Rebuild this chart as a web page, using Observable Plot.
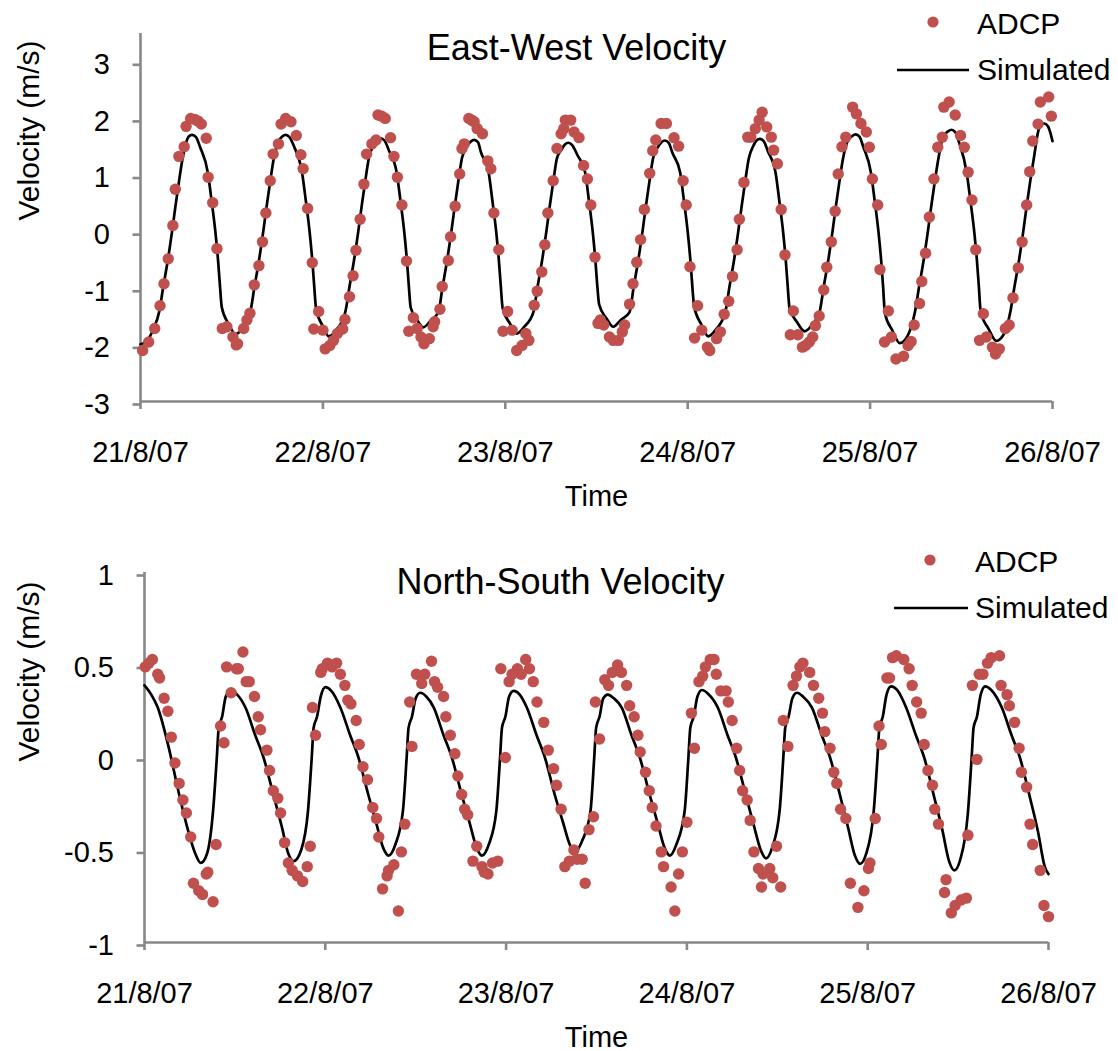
<!DOCTYPE html>
<html>
<head>
<meta charset="utf-8">
<script src="https://cdn.jsdelivr.net/npm/d3@7"></script>
<script src="https://cdn.jsdelivr.net/npm/@observablehq/plot@0.6"></script>
<style>
  html, body { margin: 0; padding: 0; background: #fff; }
  #chart { position: relative; width: 1118px; height: 1051px; font-family: "Liberation Sans", Arial, sans-serif; }
  #chart > svg { position: absolute; left: 0; }
</style>
</head>
<body>
<div id="chart"></div>
<script>
// Time axis: hours after 21/8/07 00:00, one labelled tick per day
const dayTicks = [0, 24, 48, 72, 96, 120];
const dayLabels = ["21/8/07", "22/8/07", "23/8/07", "24/8/07", "25/8/07", "26/8/07"];

const ewTicks = [-3, -2, -1, 0, 1, 2, 3];
const nsTicks = [-1, -0.5, 0, 0.5, 1];

// East-West velocity (m/s): ADCP observations [hour, velocity]
const ewObserved = [
  [0.28,-2.10],[1.08,-1.95],[1.87,-1.71],[2.57,-1.31],[3.09,-0.92],[3.65,-0.48],[4.26,0.11],[4.58,0.75],[5.05,1.33],[5.75,1.50],[6.0,1.86],[6.6,2.0],[7.16,1.98],[7.6,1.95],[8.0,1.90],[8.65,1.65],[8.9,0.96],[9.5,0.51],[10.06,-0.30],
  [10.76,-1.71],[11.37,-1.68],[12.16,-1.86],[12.6,-2.0],[12.77,-1.98],[13.57,-1.71],[14.0,-1.56],[14.4,-1.44],[14.97,-0.94],[15.58,-0.60],[16.05,-0.18],
  [16.5,0.33],[17.07,0.90],[17.45,1.37],[18.15,1.55],[18.5,1.90],[19.1,2.0],[19.8,1.94],[20.5,1.70],[21.1,1.36],[21.4,1.11],[21.99,0.41],[22.6,-0.55],
  [22.8,-1.72],[23.44,-1.41],[24.0,-1.74],[24.3,-2.07],[24.9,-2.01],[25.4,-1.92],[25.9,-1.80],[26.6,-1.72],[26.9,-1.55],[27.5,-1.15],[27.97,-0.78],[28.35,-0.33],
  [28.9,0.22],[29.4,0.84],[29.75,1.37],[30.45,1.55],[31.0,1.62],[31.25,2.06],[31.75,2.04],[32.2,2.0],[32.9,1.66],[33.35,1.33],[33.8,0.96],[34.4,0.47],[35.0,-0.52],
  [35.3,-1.76],[35.9,-1.52],[36.4,-1.71],[36.9,-1.86],[37.3,-1.98],[38.0,-1.89],[38.5,-1.68],[38.7,-1.59],[39.4,-1.37],[39.7,-0.97],[40.5,-0.51],[40.8,-0.09],
  [41.4,0.45],[42.0,1.02],[42.3,1.47],[42.6,1.55],[43.2,2.0],[43.6,1.97],[43.9,1.94],[44.3,1.82],[45.0,1.73],[45.7,1.25],[46.1,1.11],[46.5,0.33],[47.15,-0.32],
  [47.7,-1.76],[48.3,-1.41],[48.9,-1.74],[49.5,-2.10],[50.2,-2.01],[50.7,-1.80],[51.1,-1.92],[51.8,-1.30],[52.2,-1.05],[52.8,-0.71],[53.2,-0.23],
  [53.6,0.33],[54.3,0.90],[54.8,1.47],[55.35,1.73],[55.7,1.82],[55.9,1.97],[56.6,1.97],[57.05,1.76],[57.7,1.66],[58.3,1.17],[58.8,0.93],[59.25,0.47],[59.8,-0.45],
  [60.2,-1.62],[60.5,-1.56],[60.95,-1.65],[61.7,-1.86],[62.2,-1.92],[62.9,-1.92],[63.4,-1.77],[63.7,-1.65],[64.35,-1.28],[64.8,-0.92],[65.3,-0.54],[65.8,-0.14],
  [66.3,0.39],[67.0,1.03],[67.4,1.43],[67.8,1.62],[68.5,1.91],[69.2,1.91],[70.2,1.66],[70.8,1.51],[71.4,0.90],[71.8,0.47],[72.3,-0.62],
  [72.9,-1.88],[73.3,-1.31],[73.85,-1.74],[74.6,-2.04],[74.9,-2.10],[75.8,-1.89],[76.3,-1.77],[76.8,-1.46],[77.4,-1.23],[77.9,-0.79],[78.5,-0.32],
  [78.8,0.22],[79.4,0.87],[79.9,1.67],[80.3,1.67],[80.9,1.82],[81.4,1.97],[81.8,2.11],[82.4,1.85],[83.0,1.67],[83.3,1.44],[83.8,1.20],[84.3,0.39],[84.8,-0.41],
  [85.5,-1.82],[85.9,-1.40],[86.5,-1.82],[87.1,-2.04],[87.5,-2.01],[88.0,-1.95],[88.45,-1.86],[88.8,-1.66],[89.3,-1.49],[89.9,-1.03],[90.3,-0.63],[90.9,-0.18],
  [91.4,0.36],[91.8,1.02],[92.3,1.50],[92.8,1.67],[93.7,2.20],[94.2,2.08],[94.8,1.91],[95.5,1.76],[95.9,1.49],[96.3,0.93],[97.0,0.47],[97.3,-0.67],
  [97.9,-1.95],[98.4,-1.40],[98.8,-1.86],[99.4,-2.25],[100.4,-2.20],[101.0,-2.01],[101.4,-1.94],[101.8,-1.65],[102.5,-1.27],[102.8,-0.88],[103.3,-0.38],
  [103.8,0.26],[104.4,0.93],[104.9,1.49],[105.5,1.67],[105.7,2.20],[106.4,2.29],[107.2,2.06],[107.9,1.70],[108.4,1.49],[108.9,1.05],[109.4,0.56],[109.9,-0.32],
  [110.4,-1.92],[110.9,-1.45],[111.3,-1.86],[112.1,-2.04],[112.5,-2.16],[113.0,-2.07],[113.8,-1.71],[114.3,-1.65],[114.8,-1.17],[115.5,-0.64],[116.0,-0.18],
  [116.6,0.47],[117.0,1.06],[117.4,1.60],[118.1,1.90],[118.4,2.29],[119.5,2.38],[119.85,2.04]
];

// East-West velocity (m/s): simulated series [hour, velocity]
const ewSimulated = [
  [0,-1.99],[0.9,-1.92],[1.7,-1.72],[2.45,-1.42],[3.0,-0.97],[3.6,-0.5],[4.15,0],[4.6,0.45],[5.1,0.92],[5.55,1.3],[6.35,1.68],[6.8,1.71],
  [7.3,1.67],[7.85,1.49],[8.85,1.05],[9.35,0.55],[9.85,0],[10.2,-0.5],[10.45,-0.95],[10.7,-1.34],[11.6,-1.63],[12.5,-1.81],
  [13.5,-1.69],[14.45,-1.42],[15.0,-0.97],[15.6,-0.5],[16.15,0],[16.6,0.45],[17.1,0.92],[17.55,1.3],[18.15,1.59],[18.65,1.68],[19.1,1.71],
  [19.6,1.67],[20.25,1.49],[21.25,1.05],[21.75,0.55],[22.25,0],[22.6,-0.5],[22.85,-0.95],[23.1,-1.36],[23.95,-1.66],[24.8,-1.85],
  [25.8,-1.73],[26.95,-1.42],[27.5,-0.97],[28.1,-0.5],[28.65,0],[29.1,0.45],[29.6,0.92],[30.05,1.3],[30.65,1.53],[31.15,1.62],[31.6,1.65],
  [32.1,1.61],[32.7,1.43],[33.7,1.05],[34.2,0.55],[34.7,0],[35.05,-0.5],[35.3,-0.95],[35.55,-1.34],[36.4,-1.56],[37.2,-1.69],
  [38.2,-1.57],[39.2,-1.42],[39.75,-0.97],[40.35,-0.5],[40.9,0],[41.35,0.45],[41.85,0.92],[42.3,1.3],[42.9,1.5],[43.45,1.59],[43.9,1.62],
  [44.4,1.58],[44.8,1.40],[45.8,1.05],[46.3,0.55],[46.8,0],[47.15,-0.5],[47.4,-0.95],[47.65,-1.35],[48.6,-1.62],[49.5,-1.80],
  [50.5,-1.68],[51.7,-1.42],[52.25,-0.97],[52.85,-0.5],[53.4,0],[53.85,0.45],[54.35,0.92],[54.8,1.3],[55.4,1.45],[55.85,1.54],[56.3,1.57],
  [56.8,1.53],[57.5,1.35],[58.5,1.05],[59.0,0.55],[59.5,0],[59.85,-0.5],[60.1,-0.95],[60.35,-1.29],[61.3,-1.53],[62.2,-1.68],
  [63.2,-1.56],[64.35,-1.42],[64.9,-0.97],[65.5,-0.5],[66.05,0],[66.5,0.45],[67.0,0.92],[67.45,1.3],[68.05,1.49],[68.55,1.58],[69.0,1.61],
  [69.5,1.57],[70.0,1.39],[71.0,1.05],[71.5,0.55],[72.0,0],[72.35,-0.5],[72.6,-0.95],[72.85,-1.32],[73.8,-1.64],[74.7,-1.85],
  [75.7,-1.73],[76.95,-1.42],[77.5,-0.97],[78.1,-0.5],[78.65,0],[79.1,0.45],[79.6,0.92],[80.05,1.3],[80.65,1.52],[81.05,1.61],[81.5,1.64],
  [82.0,1.60],[82.55,1.42],[83.55,1.05],[84.05,0.55],[84.55,0],[84.9,-0.5],[85.15,-0.95],[85.4,-1.35],[86.4,-1.6],[87.4,-1.76],
  [88.4,-1.64],[89.35,-1.42],[89.9,-0.97],[90.5,-0.5],[91.05,0],[91.5,0.45],[92.0,0.92],[92.45,1.3],[93.05,1.6],[93.65,1.69],[94.1,1.72],
  [94.6,1.68],[95.1,1.50],[96.1,1.05],[96.6,0.55],[97.1,0],[97.45,-0.5],[97.7,-0.95],[97.95,-1.44],[98.95,-1.75],[99.9,-1.97],
  [100.9,-1.85],[101.9,-1.42],[102.45,-0.97],[103.05,-0.5],[103.6,0],[104.05,0.45],[104.55,0.92],[105.0,1.3],[105.6,1.68],[106.25,1.77],[106.7,1.80],
  [107.2,1.76],[107.7,1.58],[108.7,1.05],[109.2,0.55],[109.7,0],[110.05,-0.5],[110.3,-0.95],[110.55,-1.41],[111.6,-1.72],[112.6,-1.93],
  [113.6,-1.81],[114.45,-1.42],[115.0,-0.97],[115.6,-0.5],[116.15,0],[116.6,0.45],[117.1,0.92],[117.55,1.3],[118.15,1.79],[118.45,1.88],[118.9,1.91],
  [119.4,1.86],[120,1.6]
];

// North-South velocity (m/s): ADCP observations [hour, velocity]
const nsObserved = [
  [0.1,0.49],[0.57,0.51],[1.05,0.53],[1.76,0.45],[2.0,0.43],[2.6,0.32],[3.1,0.25],[3.56,0.11],[4.04,-0.03],[4.6,-0.14],[5.1,-0.23],[5.56,-0.30],[6.13,-0.43],[6.5,-0.68],[7.2,-0.72],[7.7,-0.74],[8.2,-0.63],[8.4,-0.62],[9.1,-0.78],[9.5,-0.47],
  [10.1,0.17],[10.55,0.08],[10.9,0.49],[11.5,0.35],[12.2,0.48],[12.45,0.48],[13.07,0.57],[13.5,0.41],[13.9,0.41],[14.6,0.33],[15.1,0.22],[15.4,0.15],[16.25,0.04],[16.6,-0.07],
  [17.1,-0.18],[17.7,-0.22],[18.06,-0.30],[18.6,-0.46],[19.1,-0.57],[19.6,-0.61],[20.3,-0.64],[21.0,-0.67],[21.6,-0.59],[22.0,-0.48],
  [22.3,0.27],[22.7,0.12],[23.4,0.46],[23.6,0.48],[24.3,0.51],[24.9,0.49],[25.5,0.51],[26.0,0.45],[26.6,0.39],[27.0,0.31],[27.4,0.29],[28.1,0.20],[28.5,0.07],[29.0,-0.05],
  [29.6,-0.12],[30.3,-0.27],[30.8,-0.33],[31.1,-0.43],[31.6,-0.71],[32.2,-0.64],[32.4,-0.61],[33.1,-0.58],[33.7,-0.83],[34.1,-0.51],[34.55,-0.36],
  [35.2,0.30],[35.5,0.06],[36.1,0.45],[36.8,0.40],[37.2,0.45],[38.1,0.52],[38.5,0.41],[38.9,0.38],[39.7,0.33],[40.0,0.22],[40.6,0.12],[41.2,0.02],[41.6,-0.10],
  [42.1,-0.20],[42.5,-0.28],[42.9,-0.31],[43.6,-0.56],[44.1,-0.48],[44.8,-0.59],[45.1,-0.62],[45.6,-0.63],[46.2,-0.57],[46.9,-0.56],
  [47.3,0.48],[47.9,0.00],[48.4,0.41],[48.8,0.45],[49.5,0.48],[50.0,0.45],[50.6,0.53],[51.1,0.48],[51.6,0.41],[52.1,0.30],[53.0,0.19],[53.6,0.04],[54.3,-0.06],
  [54.7,-0.15],[55.3,-0.28],[55.8,-0.59],[56.4,-0.56],[57.0,-0.50],[57.4,-0.55],[58.1,-0.55],[58.5,-0.68],[59.0,-0.39],[59.6,-0.32],
  [59.85,0.30],[60.4,0.10],[61.1,0.42],[61.6,0.39],[62.1,0.46],[62.8,0.50],[63.3,0.46],[64.0,0.39],[64.4,0.28],[65.0,0.22],[65.5,0.12],[65.8,0.03],[66.5,-0.08],
  [67.0,-0.18],[67.4,-0.27],[67.9,-0.37],[68.6,-0.51],[68.9,-0.59],[69.9,-0.70],[70.4,-0.83],[70.9,-0.63],[71.4,-0.51],[72.0,-0.35],
  [72.6,0.24],[73.0,0.05],[73.6,0.41],[74.1,0.44],[74.45,0.49],[75.1,0.53],[75.6,0.53],[75.9,0.45],[76.5,0.36],[77.2,0.36],[77.5,0.30],[78.0,0.20],[78.6,0.05],[79.0,-0.07],
  [79.4,-0.18],[80.0,-0.23],[80.4,-0.34],[80.9,-0.51],[81.5,-0.60],[81.9,-0.70],[82.1,-0.63],[83.0,-0.60],[83.4,-0.65],[83.9,-0.48],[84.45,-0.70],
  [84.8,0.20],[85.4,0.06],[86.1,0.39],[86.55,0.44],[87.0,0.49],[87.4,0.51],[88.3,0.46],[88.8,0.39],[89.5,0.32],[90.0,0.24],[90.3,0.14],[91.0,0.05],[91.5,-0.08],
  [91.9,-0.14],[92.4,-0.28],[93.1,-0.33],[93.7,-0.68],[94.7,-0.81],[95.5,-0.72],[96.1,-0.60],[96.3,-0.57],[97.0,-0.33],
  [97.5,0.17],[97.8,0.07],[98.55,0.43],[98.9,0.43],[99.3,0.54],[99.8,0.55],[100.8,0.53],[101.5,0.48],[101.9,0.39],[102.5,0.30],[103.1,0.24],[103.5,0.07],[104.0,-0.07],
  [104.6,-0.15],[104.9,-0.28],[105.4,-0.36],[106.2,-0.73],[106.4,-0.66],[107.1,-0.84],[107.6,-0.80],[108.4,-0.77],[109.1,-0.76],[109.3,-0.42],
  [109.9,0.39],[110.5,-0.01],[110.8,0.45],[111.3,0.45],[111.9,0.51],[112.4,0.54],[113.5,0.55],[113.7,0.39],[114.5,0.34],[114.8,0.28],[115.5,0.19],[116.1,0.05],[116.4,-0.08],
  [117.1,-0.16],[117.55,-0.36],[117.9,-0.47],[118.9,-0.61],[119.4,-0.80],[120.0,-0.86]
];

// North-South velocity (m/s): simulated series [hour, velocity]
const nsSimulated = [
  [0,0.39],[0.9,0.34],[1.76,0.27],[3.18,0.06],[4.6,-0.2],[5.56,-0.36],[6.75,-0.52],[7.46,-0.57],
  [8.3,-0.52],[9.1,-0.29],[9.6,0],[9.85,0.16],[10.3,0.22],[10.8,0.33],[11.5,0.36],[12.3,0.34],
  [13.4,0.27],[14.7,0.12],[15.8,0],[17.1,-0.2],[18.2,-0.37],[19.1,-0.52],[19.8,-0.56],
  [20.8,-0.5],[21.7,-0.29],[22.2,0],[22.45,0.16],[22.9,0.22],[23.4,0.33],[24.0,0.38],[24.8,0.36],
  [26.0,0.27],[27.3,0.12],[28.4,0],[29.7,-0.2],[30.8,-0.36],[31.7,-0.49],[32.4,-0.53],
  [33.3,-0.47],[34.3,-0.29],[34.8,0],[35.05,0.16],[35.5,0.22],[36.0,0.32],[36.6,0.35],[37.4,0.33],
  [38.4,0.27],[39.7,0.12],[40.8,0],[42.1,-0.2],[43.2,-0.36],[44.1,-0.49],[44.8,-0.53],
  [45.7,-0.47],[46.7,-0.29],[47.2,0],[47.45,0.16],[47.9,0.22],[48.4,0.33],[49.0,0.36],[49.8,0.34],
  [50.75,0.27],[52.05,0.12],[53.15,0],[54.45,-0.2],[55.55,-0.35],[56.45,-0.47],[57.15,-0.51],
  [58.1,-0.45],[59.2,-0.29],[59.7,0],[59.95,0.16],[60.4,0.22],[60.9,0.32],[61.5,0.34],[62.3,0.32],
  [63.35,0.27],[64.65,0.12],[65.75,0],[67.05,-0.2],[68.15,-0.36],[69.05,-0.49],[69.75,-0.53],
  [70.6,-0.47],[71.7,-0.29],[72.2,0],[72.45,0.16],[72.9,0.22],[73.4,0.33],[74.0,0.365],[74.8,0.345],
  [76.1,0.27],[77.4,0.12],[78.5,0],[79.8,-0.2],[80.9,-0.37],[81.8,-0.5],[82.5,-0.545],
  [83.3,-0.49],[84.3,-0.29],[84.8,0],[85.05,0.16],[85.5,0.22],[86.0,0.32],[86.6,0.35],[87.4,0.33],
  [88.6,0.27],[89.9,0.12],[91.0,0],[92.3,-0.2],[93.4,-0.38],[94.3,-0.53],[95.0,-0.575],
  [95.8,-0.52],[96.8,-0.29],[97.3,0],[97.55,0.16],[98.0,0.22],[98.5,0.34],[99.1,0.385],[99.9,0.365],
  [101.1,0.27],[102.4,0.12],[103.5,0],[104.8,-0.21],[105.9,-0.39],[106.8,-0.56],[107.5,-0.61],
  [108.3,-0.55],[109.3,-0.3],[109.8,0],[110.05,0.16],[110.5,0.22],[111.0,0.34],[111.6,0.385],[112.4,0.365],
  [113.8,0.27],[115.1,0.12],[116.2,0],[117.5,-0.21],[118.6,-0.4],[119.5,-0.59],[120,-0.63]
];

const FONT = "Liberation Sans, Arial, sans-serif";
const ADCP_RED = "#C0504D";
const AXIS_GREY = "#888888";

function velocityPanel({observed, simulated, title, yDomain, yTicks, top, height, margins, titleDx, titleDy, yTickPadding, yTitleDy}) {
  const [mt, mr, mb, ml] = margins;
  const svg = Plot.plot({
    width: 1118,
    height,
    marginTop: mt, marginRight: mr, marginBottom: mb, marginLeft: ml,
    style: {fontFamily: FONT, fontSize: "29px", color: "black", background: "transparent", overflow: "visible"},
    x: {domain: [0, 120], axis: null},
    y: {domain: yDomain, axis: null},
    marks: [
      Plot.ruleX([0], {stroke: AXIS_GREY, strokeWidth: 2.6}),
      Plot.ruleY([yDomain[0]], {stroke: AXIS_GREY, strokeWidth: 2.6}),
      Plot.axisX({
        ticks: dayTicks, tickFormat: (d) => dayLabels[dayTicks.indexOf(d)],
        tickSize: 8, tickPadding: 32, stroke: AXIS_GREY, strokeWidth: 2.6, fill: "black", fontSize: 29, label: null
      }),
      Plot.axisY({
        ticks: yTicks, tickFormat: (d) => String(d),
        tickSize: 7.5, tickPadding: yTickPadding, stroke: AXIS_GREY, strokeWidth: 2.6, fill: "black", fontSize: 29, dy: 3, label: null
      }),
      Plot.line(simulated, {x: (d) => d[0], y: (d) => d[1], curve: "monotone-x", stroke: "black", strokeWidth: 2.7}),
      Plot.dot(observed, {x: (d) => d[0], y: (d) => d[1], r: 5.7, fill: ADCP_RED, stroke: "none"}),
      Plot.text([title], {text: (d) => d, frameAnchor: "top", dx: titleDx, dy: titleDy, lineAnchor: "bottom", fontSize: 36, fill: "black"}),
      Plot.text(["Time"], {text: (d) => d, frameAnchor: "bottom", dx: 0, dy: 104, lineAnchor: "bottom", fontSize: 29, fill: "black"}),
      Plot.text(["Velocity (m/s)"], {text: (d) => d, frameAnchor: "left", rotate: -90, dx: 38 - ml, dy: yTitleDy, lineAnchor: "bottom", fontSize: 30, fill: "black"})
    ]
  });
  svg.style.top = top + "px";
  return svg;
}

const chart = document.getElementById("chart");

chart.appendChild(velocityPanel({
  observed: ewObserved, simulated: ewSimulated, title: "East-West Velocity",
  yDomain: [-3, 3.5], yTicks: ewTicks, top: 0, height: 520,
  margins: [33, 66, 119, 140], titleDx: -20, titleDy: 26, yTickPadding: 23, yTitleDy: 3
}));

chart.appendChild(velocityPanel({
  observed: nsObserved, simulated: nsSimulated, title: "North-South Velocity",
  yDomain: [-1, 1], yTicks: nsTicks, top: 520, height: 531,
  margins: [52, 70, 109, 144], titleDx: -36, titleDy: 21, yTickPadding: 23, yTitleDy: 4
}));

// Legends (top-right of each panel)
const legend = d3.select(chart).append("svg")
  .attr("width", 1118).attr("height", 1051)
  .style("position", "absolute").style("left", 0).style("top", 0)
  .style("pointer-events", "none")
  .attr("font-family", FONT).attr("font-size", 30);

function drawLegend(g, {dotX, dotY, textX, adcpY, lineX1, lineX2, lineY, simY}) {
  g.append("circle").attr("cx", dotX).attr("cy", dotY).attr("r", 5.6).attr("fill", ADCP_RED);
  g.append("text").attr("x", textX).attr("y", adcpY).text("ADCP");
  g.append("line").attr("x1", lineX1).attr("x2", lineX2).attr("y1", lineY).attr("y2", lineY)
    .attr("stroke", "black").attr("stroke-width", 2.7);
  g.append("text").attr("x", textX).attr("y", simY).text("Simulated");
}

drawLegend(legend.append("g"), {dotX: 933, dotY: 22, textX: 977, adcpY: 34, lineX1: 897, lineX2: 969, lineY: 70, simY: 80});
drawLegend(legend.append("g"), {dotX: 930, dotY: 560, textX: 975, adcpY: 572, lineX1: 894, lineX2: 968, lineY: 608, simY: 618});
</script>
</body>
</html>
